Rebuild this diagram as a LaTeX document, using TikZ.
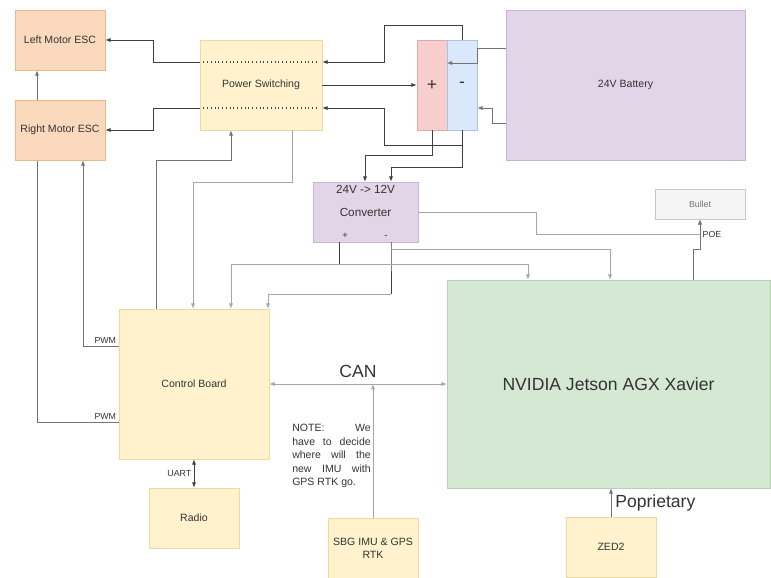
\documentclass[tikz,border=0pt]{standalone}
\usepackage{fontspec}
\setmainfont{Liberation Sans}
\usepackage{tikz}
\usetikzlibrary{arrows.meta, positioning, calc, backgrounds}

\definecolor{escfill}{HTML}{FAD9BC}
\definecolor{escline}{HTML}{E8B98A}
\definecolor{ylwfill}{HTML}{FFF2CC}
\definecolor{ylwline}{HTML}{EED9A0}
\definecolor{purfill}{HTML}{E1D5E7}
\definecolor{purline}{HTML}{C9B3D6}
\definecolor{plusfill}{HTML}{F8CECC}
\definecolor{plusline}{HTML}{E0A9A6}
\definecolor{minusfill}{HTML}{DAE8FC}
\definecolor{minusline}{HTML}{A9C4EB}
\definecolor{grnfill}{HTML}{D5E8D4}
\definecolor{grnline}{HTML}{B5D3B2}
\definecolor{gryfill}{HTML}{F5F5F5}
\definecolor{gryline}{HTML}{C8C8C8}

\begin{document}
\begin{tikzpicture}[
  x=0.03cm, y=-0.03cm,
  >={Latex[length=4.5pt,width=3.5pt]},
  every node/.style={text=black!80},
  box/.style={rectangle, draw, minimum width=2.7cm, minimum height=1.8cm, inner sep=1pt, align=center, font=\fontsize{9}{11}\selectfont},
  esc/.style={box, fill=escfill, draw=escline},
  module/.style={box, fill=ylwfill, draw=ylwline},
  pwr/.style={->, draw=black!75, line width=0.75pt},
  sig/.style={->, draw=black!55, line width=0.65pt},
  faint/.style={->, draw=black!35, line width=0.6pt},
  lbl/.style={font=\fontsize{7.5}{9}\selectfont, inner sep=2pt},
  bigtxt/.style={font=\fontsize{15}{18}\selectfont}
]
\useasboundingbox (0,0) rectangle (771,577);

\node[esc] (lesc) at (60,40) {Left Motor ESC};
\node[esc] (resc) at (60,130) {Right Motor ESC};
\node[module, minimum width=3.66cm, minimum height=2.7cm] (psw) at (261,85) {Power Switching};
\node[box, fill=plusfill, draw=plusline, minimum width=0.9cm, minimum height=2.7cm, bigtxt] (tplus) at (432,85) {+};
\node[box, fill=minusfill, draw=minusline, minimum width=0.9cm, minimum height=2.7cm, bigtxt] (tminus) at (462,85) {-};
\node[box, fill=purfill, draw=purline, minimum width=7.17cm, minimum height=4.5cm] (batt) at (625.5,85) {24V Battery};
\node[box, fill=purfill, draw=purline, minimum width=3.15cm, minimum height=1.8cm, font=\fontsize{10}{19}\selectfont] (conv) at (365.5,212)
  {24V -> 12V\\Converter\\{\fontsize{8}{8}\selectfont\makebox[8pt]{+}\hspace{27pt}\makebox[8pt]{-}}};
\node[box, fill=gryfill, draw=gryline, minimum height=0.9cm, font=\fontsize{7.5}{9}\selectfont, text=black!55] (bullet) at (700,204) {Bullet};
\node[box, fill=grnfill, draw=grnline, minimum width=9.69cm, minimum height=6.24cm, bigtxt] (jet) at (608.5,384) {NVIDIA Jetson AGX Xavier};
\node[module, minimum width=4.5cm, minimum height=4.5cm] (cb) at (194,384) {Control Board};
\node[module] (radio) at (194,518) {Radio};
\node[module] (sbg) at (373,548) {SBG IMU \& GPS\\RTK};
\node[module] (zed) at (611,547) {ZED2};
\node[align=justify, text width=67pt, inner sep=0pt, font=\fontsize{9}{11.5}\selectfont] (note) at (331.5,456)
  {NOTE: We\linebreak have to decide\linebreak where will the\linebreak new IMU with\linebreak GPS RTK go.};

\begin{scope}[on background layer]
\draw[sig] (cb.west |- 0,422) node[lbl, above left] {PWM} -| (lesc.south -| 37,0);
\end{scope}
\draw[sig] (cb.west |- 0,346) node[lbl, above left] {PWM} -| (resc.south -| 83,0);

\draw[dash pattern=on 1pt off 2.2pt, black!70, line width=1pt, shorten <=3pt, shorten >=3pt] (psw.west |- 0,62) -- (psw.east |- 0,62);
\draw[dash pattern=on 1pt off 2.2pt, black!70, line width=1pt, shorten <=3pt, shorten >=3pt] (psw.west |- 0,108) -- (psw.east |- 0,108);
\draw[pwr] (psw.west |- 0,62) -- (153,62) |- (lesc.east);
\draw[pwr] (psw.west |- 0,108) -- (153,108) |- (resc.east);
\draw[sig] (cb.north -| 156,0) |- (231,160) -- (psw.south -| 231,0);
\draw[faint] (psw.south -| 292,0) |- (193,182) -- (cb.north -| 193,0);

\draw[sig] (batt.west |- 0,48) -- (477,48) |- (tminus.west |- 0,63);
\draw[sig] (batt.west |- 0,123) -- (492,123) |- (tminus.east |- 0,108);

\draw[pwr] (tminus.north) |- (384,25) |- (psw.east |- 0,62);
\draw[pwr] (psw.east) -- (tplus.west);
\draw[pwr] (tminus.south) |- (384,145) |- (psw.east |- 0,108);
\draw[pwr] (tplus.south) |- (365,155) -- (conv.north -| 365,0);
\draw[pwr] (tminus.south) |- (391,167) -- (conv.north -| 391,0);

\draw[pwr, -] (conv.south -| 339,0) -- (339,264) coordinate (cp);
\draw[pwr, -] (conv.south -| 391,0) -- (391,249) coordinate (cmtap) -- (391,294) coordinate (cm);
\draw[faint] (cp) -| (cb.north -| 231,0);
\draw[faint] (cp) -| (jet.north -| 528,0);
\draw[faint] (cm) -| (cb.north -| 268,0);
\draw[faint] (cmtap) -| (jet.north -| 610,0);

\draw[faint] (conv.east) -| (536,234) -| (bullet.south);
\draw[sig] (jet.north -| 693,0) |- (700,249) -- node[lbl, right] {POE} (bullet.south);

\draw[faint, <->] (cb.east) -- node[bigtxt, above=2pt] {CAN} (jet.west);
\draw[faint] (sbg.north) -- (sbg.north |- cb.east);
\draw[pwr, <->] (cb.south) -- node[lbl, left] {UART} (radio.north);
\draw[sig] (zed.north) -- node[bigtxt, right] {Poprietary} (zed.north |- jet.south);

\end{tikzpicture}
\end{document}
